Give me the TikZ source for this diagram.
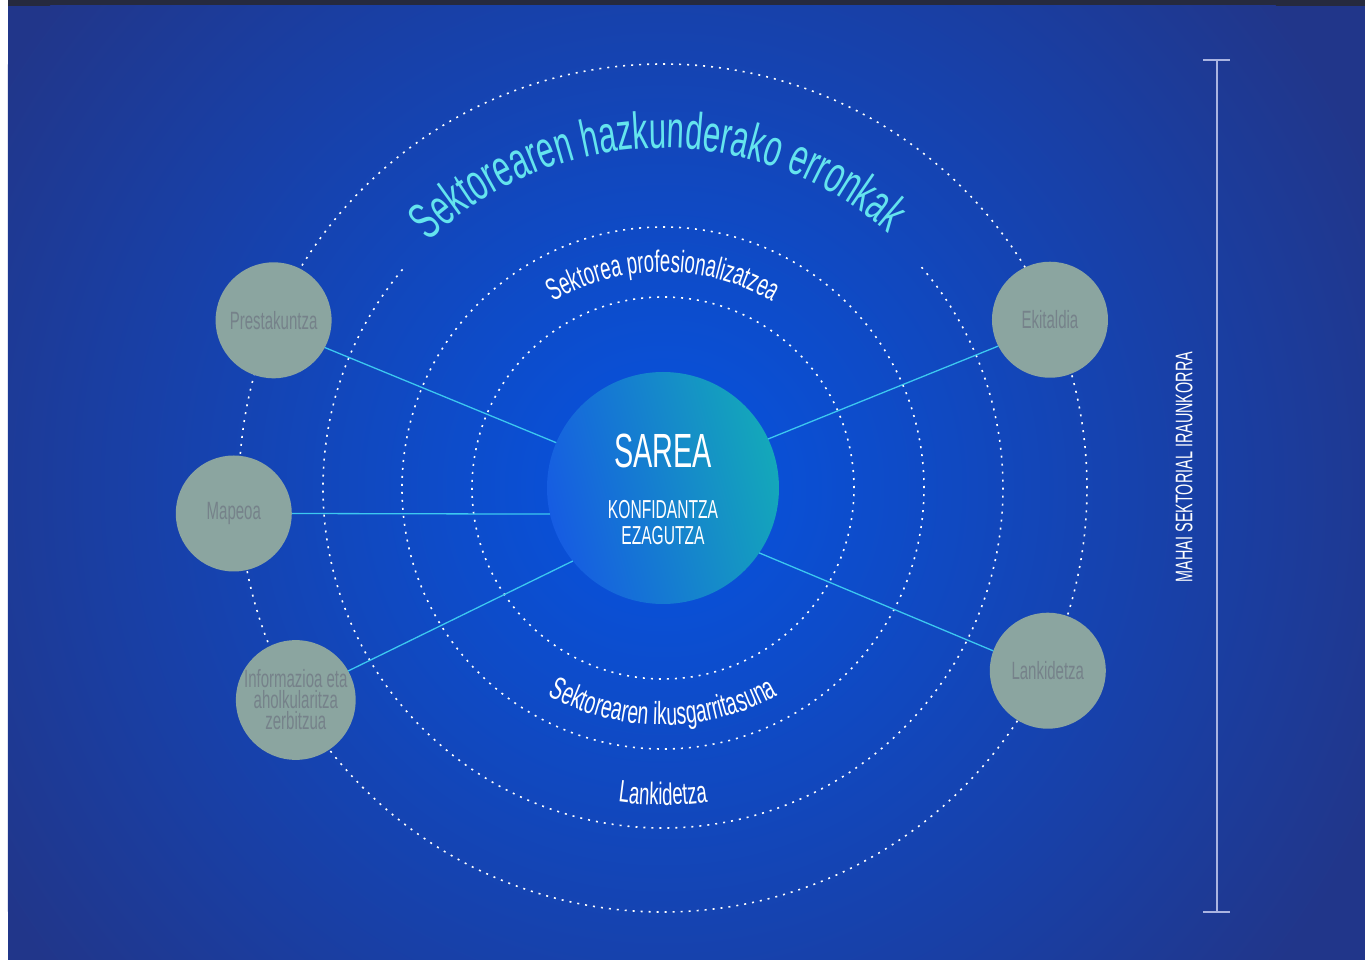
\documentclass[tikz,border=0pt]{standalone}
\usepackage{fontspec}
\newfontfamily\condfont[FakeStretch=0.6]{Liberation Sans}
\usetikzlibrary{positioning,decorations.text}

\definecolor{navy}{RGB}{33,54,138}
\definecolor{glow}{RGB}{6,84,226}
\definecolor{topline}{RGB}{38,42,62}
\definecolor{topicfill}{RGB}{139,165,160}
\definecolor{topictext}{RGB}{118,130,138}
\definecolor{linkcyan}{RGB}{60,200,240}
\definecolor{titlecyan}{RGB}{100,228,238}
\definecolor{hubblue}{RGB}{22,92,226}
\definecolor{hubteal}{RGB}{20,168,186}
\definecolor{barlav}{RGB}{170,180,225}

\tikzset{
  ring/.style={white, line width=1.6pt, dash pattern=on 2pt off 6pt},
  topic/.style={circle, fill=topicfill, minimum size=116pt, inner sep=0pt, outer sep=0pt,
    text=topictext, align=center, font=\condfont\fontsize{25}{21}\selectfont},
  hub/.style={circle, minimum size=232pt, inner sep=0pt, outer sep=0pt,
    left color=hubblue, right color=hubteal, shading angle=105},
  hubtext/.style={text=white, inner sep=0pt, align=center},
  link/.style={draw=linkcyan, line width=1.3pt},
  bar/.style={draw=barlav, line width=1.6pt},
}

\begin{document}
\begin{tikzpicture}[x=1pt,y=1pt]
\useasboundingbox (-663,-472) rectangle (702,488);

% background
\fill[white] (-663,-472) rectangle (702,488);
\fill[topline] (-655,482) rectangle (702,488);
\begin{scope}
  \clip (-655,-472) rectangle (702,482);
  \fill[navy] (-655,-472) rectangle (702,482);
  \shade[inner color=glow, outer color=navy] (0,0) circle (780);
\end{scope}

% dotted rings
\draw[ring] (0,0) circle (191);
\draw[ring] (0,0) circle (261);
\draw[ring] (140:340) arc[start angle=140, end angle=401, radius=340];
\draw[ring] (0,0) circle (424);

% ring labels
\path[decorate, decoration={text along path, text align=center, text color=titlecyan,
    text={|\condfont\fontsize{52}{52}\selectfont|Sektorearen hazkunderako erronkak}}]
  (137:340) arc[start angle=137, end angle=45, radius=340];
\path[decorate, decoration={text along path, text align=center, text color=white,
    text={|\condfont\fontsize{31}{31}\selectfont|Sektorea profesionalizatzea}}]
  (125:216) arc[start angle=125, end angle=55, radius=216];
\path[decorate, decoration={text along path, text align=center, text color=white,
    text={|\condfont\fontsize{32}{32}\selectfont|Sektorearen ikusgarritasuna}}]
  (233:237) arc[start angle=233, end angle=307, radius=237];
\path[decorate, decoration={text along path, text align=center, text color=white,
    text={|\condfont\fontsize{31}{31}\selectfont|Lankidetza}}]
  (250:317) arc[start angle=250, end angle=290, radius=317];

% nodes
\node[hub] (hub) at (0,0) {};
\node[hubtext, font=\condfont\fontsize{48}{48}\selectfont] (sarea) at (0,37) {SAREA};
\node[hubtext, font=\condfont\fontsize{26}{26}\selectfont] (values) [below=32pt of sarea] {KONFIDANTZA\\EZAGUTZA};

\node[topic] (presta) at (156.7:424) {Prestakuntza};
\node[topic] (mapeoa) at (183.4:430) {Mapeoa};
\node[topic] (info) at (210:424) {Informazioa eta\\aholkularitza\\zerbitzua};
\node[topic] (ekit) at (23.5:422) {Ekitaldia};
\node[topic] (lank) at (-25.4:426) {Lankidetza};

% connectors
\path[link] (presta.-28) edge (hub.157)
            (mapeoa.0) edge (hub.193)
            (info.29) edge (hub.219)
            (ekit.207) edge (hub.25)
            (lank.160) edge (hub.-34);

% side bar
\coordinate (bartop) at (554,428);
\coordinate (barbot) at (554,-424);
\draw[bar] (bartop) -- (barbot);
\draw[bar] ([xshift=-14pt]bartop) -- ([xshift=13pt]bartop);
\draw[bar] ([xshift=-14pt]barbot) -- ([xshift=13pt]barbot);
\node[rotate=90, text=white, inner sep=0pt, font=\condfont\fontsize{24}{24}\selectfont] (mahai) at (521,21) {MAHAI SEKTORIAL IRAUNKORRA};
\end{tikzpicture}
\end{document}
